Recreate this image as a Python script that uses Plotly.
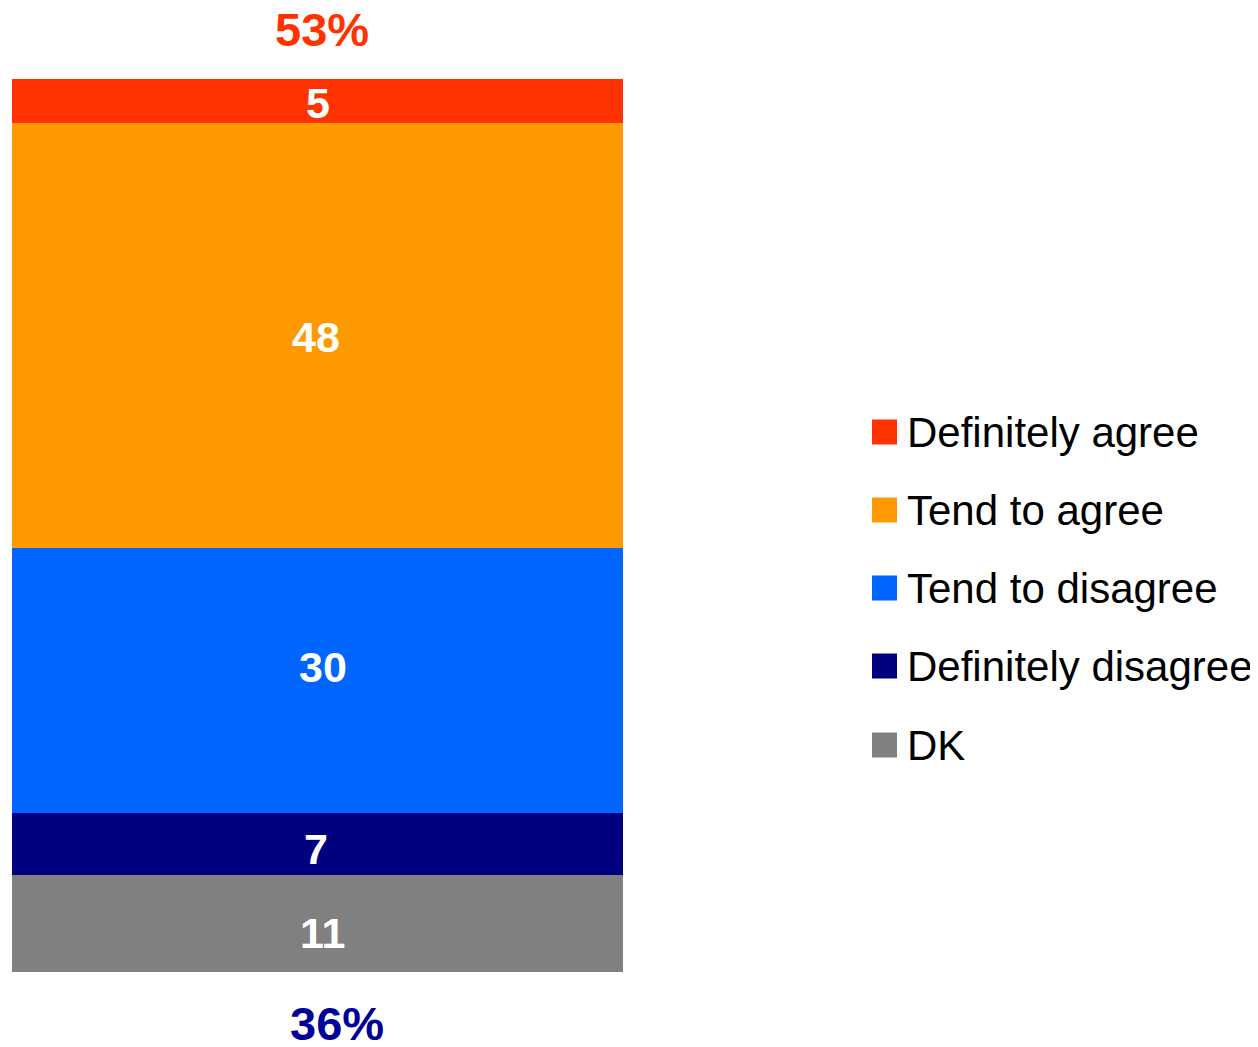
import plotly.graph_objects as go

# Data (bottom to top of stack)
categories = ["All"]
series_names = ["DK", "Definitely disagree", "Tend to disagree", "Tend to agree", "Definitely agree"]
series_values = [11, 7, 30, 48, 5]
series_colors = ["#808080", "#000080", "#0066FF", "#FF9900", "#FF3300"]
legend_order = ["Definitely agree", "Tend to agree", "Tend to disagree", "Definitely disagree", "DK"]
agree_total_label = "53%"
disagree_total_label = "36%"

# label nudges (pixels) to mimic the original layout
label_xshift = [4.5, -1.5, 5, -2, 0]
label_yshift = [-9.5, -5.5, 13, -1.5, -1.5]

OFF = 8  # page body margin
W, H = 1258 - OFF, 1047 - OFF
L, T = 12 - OFF, 79 - OFF
R = W - (623 - OFF)
B = H - (972 - OFF)
FONT = "Liberation Sans, Arial, sans-serif"

fig = go.Figure()
for name, val, col in zip(series_names, series_values, series_colors):
    fig.add_trace(go.Bar(
        x=categories, y=[val], name=name, marker=dict(color=col, line=dict(width=0)),
        width=1, showlegend=False, hoverinfo="name+y",
    ))

total = sum(series_values)
pw = W - L - R
ph = H - T - B

def px_x(p):
    return (p - OFF - L) / pw

def px_y(p):
    return 1 - (p - OFF - T) / ph

annotations = []
base = 0
for val, dx, dy in zip(series_values, label_xshift, label_yshift):
    annotations.append(dict(x=categories[0], y=base + val / 2, xref="x", yref="y",
                            text=str(val), showarrow=False, xanchor="center", yanchor="middle",
                            xshift=dx, yshift=dy,
                            font=dict(family=FONT, size=43, color="white", weight="bold")))
    base += val

annotations += [
    dict(x=categories[0], y=total, xref="x", yref="y", text=agree_total_label, showarrow=False,
         yanchor="bottom", yshift=22, xshift=4, borderpad=0,
         font=dict(family=FONT, size=47, color="#FF3300", weight="bold")),
    dict(x=categories[0], y=0, xref="x", yref="y", text=disagree_total_label, showarrow=False,
         yanchor="top", yshift=-24, xshift=19, borderpad=0,
         font=dict(family=FONT, size=47, color="#000099", weight="bold")),
]
shapes = []
color_map = dict(zip(series_names, series_colors))
row_centers = [432, 510, 588, 666, 745]
for name, cy in zip(legend_order, row_centers):
    shapes.append(dict(type="rect", xref="paper", yref="paper",
                       x0=px_x(872), x1=px_x(897), y0=px_y(cy - 12.5), y1=px_y(cy + 12.5),
                       fillcolor=color_map[name], line=dict(width=0)))
    annotations.append(dict(x=px_x(905), y=px_y(cy), xref="paper", yref="paper",
                            text=name, showarrow=False, xanchor="left", yanchor="middle",
                            font=dict(family=FONT, size=42, color="black")))

fig.update_layout(
    width=W, height=H, barmode="stack",
    margin=dict(l=L, r=R, t=T, b=B, pad=0),
    paper_bgcolor="white", plot_bgcolor="white",
    xaxis=dict(visible=False, range=[-0.5, 0.5]),
    yaxis=dict(visible=False, range=[0, total]),
    annotations=annotations, shapes=shapes, showlegend=False,
)

fig.write_html("out.html")
